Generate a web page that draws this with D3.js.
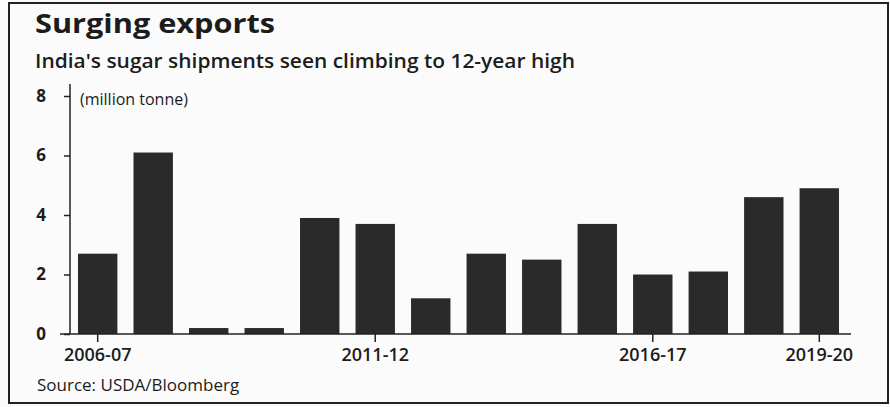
<!DOCTYPE html>
<html>
<head>
<meta charset="utf-8">
<script src="https://cdn.jsdelivr.net/npm/d3@7"></script>
<style>
  body { margin: 0; background: #fbfbfb; }
  text { font-family: "Open Sans", sans-serif; fill: #1c1c1c; }
</style>
</head>
<body>
<div id="chart"></div>
<script>
// sugar exports, million tonne
const seasons = ["2006-07", "2007-08", "2008-09", "2009-10", "2010-11", "2011-12", "2012-13",
                 "2013-14", "2014-15", "2015-16", "2016-17", "2017-18", "2018-19", "2019-20"];
const exportsMt = [2.7, 6.1, 0.2, 0.2, 3.9, 3.7, 1.2, 2.7, 2.5, 3.7, 2.0, 2.1, 4.6, 4.9];
const yTicks = [0, 2, 4, 6, 8];
const xLabels = ["2006-07", "2011-12", "2016-17", "2019-20"];

const width = 890;
const height = 407;

const svg = d3.select("#chart")
              .append("svg")
              .attr("width", width)
              .attr("height", height);

// frame
svg.append("rect")
   .attr("x", 9).attr("y", 3)
   .attr("width", 879).attr("height", 400)
   .attr("fill", "#fbfbfb")
   .attr("stroke", "#222")
   .attr("stroke-width", 2);

svg.append("text")
   .attr("x", 35).attr("y", 33)
   .attr("font-size", 27).attr("font-weight", 700)
   .attr("textLength", 240).attr("lengthAdjust", "spacingAndGlyphs")
   .text("Surging exports");

svg.append("text")
   .attr("x", 35).attr("y", 68)
   .attr("font-size", 19.5).attr("font-weight", 600)
   .attr("textLength", 540).attr("lengthAdjust", "spacingAndGlyphs")
   .text("India's sugar shipments seen climbing to 12-year high");

const x = d3.scaleBand()
            .domain(seasons)
            .range([70, 847])
            .paddingInner(0.29)
            .paddingOuter(0.144);

const y = d3.scaleLinear()
            .domain([0, 8])
            .range([334, 96]);

svg.append("g")
   .selectAll("rect")
   .data(seasons)
   .enter()
   .append("rect")
   .attr("x", d => x(d))
   .attr("y", (d, i) => y(exportsMt[i]))
   .attr("width", x.bandwidth())
   .attr("height", (d, i) => y(0) - y(exportsMt[i]))
   .attr("fill", "#2a2a2a");

// x axis
const xAxis = svg.append("g")
   .attr("transform", `translate(0, ${y(0)})`)
   .call(d3.axisBottom(x).tickValues(xLabels).tickSize(8).tickSizeOuter(0).tickPadding(6));
xAxis.select(".domain").remove();
xAxis.append("line")
   .attr("x1", 60).attr("x2", 851)
   .attr("stroke", "#222").attr("stroke-width", 1.5);
xAxis.selectAll(".tick line").attr("stroke", "#222").attr("stroke-width", 1.5);
xAxis.selectAll(".tick text")
   .attr("font-size", 18).attr("font-weight", 600).attr("fill", "#1c1c1c")
   .style("font-family", "'Open Sans', sans-serif");

// y axis
const yAxis = svg.append("g")
   .attr("transform", "translate(70, 0)")
   .call(d3.axisLeft(y).tickValues(yTicks).tickSize(6).tickSizeOuter(0).tickPadding(18));
yAxis.select(".domain").remove();
yAxis.append("line")
   .attr("y1", 84).attr("y2", y(0))
   .attr("stroke", "#222").attr("stroke-width", 1.5);
yAxis.selectAll(".tick line").attr("stroke", "#222").attr("stroke-width", 1.5);
yAxis.selectAll(".tick text")
   .attr("font-size", 17).attr("font-weight", 700).attr("fill", "#1c1c1c")
   .style("font-family", "'Open Sans', sans-serif");

svg.append("text")
   .attr("x", 80).attr("y", 105)
   .attr("font-size", 16)
   .text("(million tonne)");

svg.append("text")
   .attr("x", 37).attr("y", 391)
   .attr("font-size", 17)
   .text("Source: USDA/Bloomberg");
</script>
</body>
</html>
